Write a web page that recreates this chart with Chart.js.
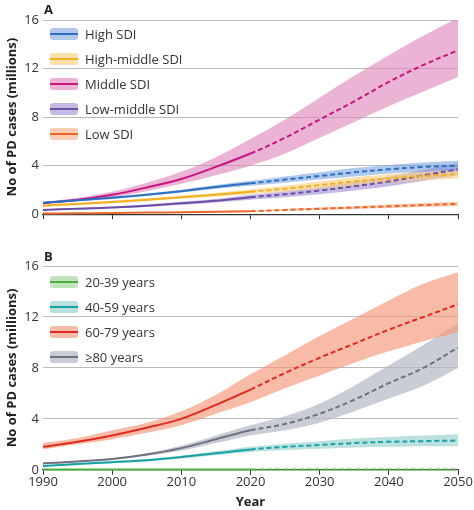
<!DOCTYPE html>
<html><head><meta charset="utf-8">
<script src="https://cdn.jsdelivr.net/npm/chart.js@4"></script>
<style>
body{margin:0;background:#fff;font-family:"Open Sans",sans-serif;}
#wrap{position:relative;width:474px;height:510px;overflow:hidden;}
canvas{position:absolute;left:0;}
.lab{position:absolute;font-weight:bold;font-size:13px;color:#222;}
.leg{position:absolute;left:50px;font-size:13px;color:#333;}
.leg div{height:25px;display:flex;align-items:center;}
.sw{position:relative;width:28px;height:12px;margin-right:7px;border-radius:3px;}
.sw i{position:absolute;left:0;right:0;top:5px;height:2.5px;}
</style></head><body>
<div id="wrap">
<canvas id="cA" width="474" height="226" style="top:0"></canvas>
<canvas id="cB" width="474" height="264" style="top:246px"></canvas>
<div class="lab" style="left:44px;top:0px">A</div>
<div class="lab" style="left:44px;top:247px">B</div>
<div class="leg" id="legA" style="top:21px"></div>
<div class="leg" id="legB" style="top:269px"></div>
</div>
<script>
const years = [1990,1995,2000,2005,2010,2015,2020,2025,2030,2035,2040,2045,2050];
const yTicks = [0,4,8,12,16];

const sdiNames = ['High SDI','High-middle SDI','Middle SDI','Low-middle SDI','Low SDI'];
const sdiLine = ['#2a6fc1','#f2b01e','#c8157f','#6a4fa8','#e8682a'];
const sdiBand = ['rgba(110,155,220,0.55)','rgba(250,205,120,0.6)','rgba(222,130,185,0.6)','rgba(160,140,210,0.6)','rgba(245,170,130,0.6)'];
const sdiMid = [
  [0.95,1.15,1.35,1.6,1.9,2.25,2.55,2.85,3.15,3.45,3.7,3.9,4.0],
  [0.7,0.85,1.0,1.2,1.4,1.6,1.85,2.1,2.4,2.7,2.95,3.15,3.3],
  [0.9,1.2,1.6,2.2,2.9,3.9,5.0,6.3,7.8,9.3,10.9,12.3,13.5],
  [0.35,0.45,0.55,0.7,0.9,1.1,1.4,1.65,1.95,2.3,2.7,3.2,3.7],
  [0.05,0.07,0.1,0.13,0.17,0.2,0.25,0.35,0.45,0.55,0.65,0.75,0.85]
];
const sdiLow = [
  [0.88,1.07,1.26,1.5,1.78,2.1,2.35,2.6,2.85,3.1,3.35,3.5,3.6],
  [0.62,0.77,0.9,1.08,1.27,1.45,1.65,1.85,2.1,2.35,2.6,2.8,2.95],
  [0.8,1.05,1.4,1.9,2.5,3.2,4.0,5.0,6.3,7.6,8.9,10.1,11.3],
  [0.3,0.38,0.48,0.6,0.78,0.97,1.2,1.4,1.65,1.95,2.3,2.75,3.2],
  [0.03,0.05,0.07,0.1,0.13,0.16,0.2,0.27,0.35,0.43,0.52,0.6,0.68]
];
const sdiHigh = [
  [1.02,1.23,1.45,1.7,2.02,2.4,2.75,3.1,3.45,3.8,4.05,4.25,4.4],
  [0.78,0.93,1.1,1.32,1.53,1.76,2.05,2.35,2.7,3.05,3.3,3.5,3.65],
  [1.0,1.35,1.85,2.6,3.5,4.7,6.2,7.8,9.6,11.4,13.1,14.7,16.2],
  [0.4,0.52,0.63,0.8,1.02,1.25,1.6,1.9,2.25,2.65,3.1,3.65,4.2],
  [0.07,0.09,0.13,0.16,0.21,0.25,0.3,0.43,0.55,0.67,0.8,0.92,1.02]
];

const ageNames = ['20-39 years','40-59 years','60-79 years','\u226580 years'];
const ageLine = ['#4daf3e','#17a3a3','#e02a1f','#6e7180'];
const ageBand = ['rgba(150,210,140,0.6)','rgba(140,205,200,0.6)','rgba(243,150,120,0.65)','rgba(180,184,196,0.7)'];
const ageMid = [
  [0.03,0.03,0.03,0.03,0.03,0.03,0.03,0.03,0.03,0.03,0.03,0.03,0.03],
  [0.3,0.45,0.6,0.75,1.0,1.3,1.6,1.8,1.95,2.1,2.2,2.25,2.3],
  [1.8,2.2,2.7,3.3,4.0,5.1,6.3,7.6,8.8,9.9,11.0,12.0,13.0],
  [0.5,0.65,0.85,1.2,1.7,2.4,3.1,3.6,4.4,5.5,6.8,8.0,9.6]
];
const ageLow = [
  [0,0,0,0,0,0,0,0,0,0,0,0,0],
  [0.25,0.38,0.52,0.66,0.88,1.15,1.4,1.55,1.65,1.75,1.8,1.85,1.85],
  [1.6,2.0,2.4,2.9,3.5,4.4,5.3,6.4,7.4,8.4,9.3,10.1,10.8],
  [0.45,0.6,0.8,1.1,1.5,2.1,2.7,3.1,3.7,4.6,5.6,6.6,8.0]
];
const ageHigh = [
  [0.06,0.06,0.06,0.06,0.06,0.06,0.06,0.06,0.06,0.06,0.06,0.06,0.06],
  [0.35,0.52,0.68,0.85,1.12,1.45,1.8,2.05,2.25,2.45,2.6,2.7,2.8],
  [2.1,2.5,3.1,3.7,4.6,5.9,7.5,9.0,10.5,11.9,13.3,14.6,15.5],
  [0.55,0.7,0.9,1.3,1.9,2.7,3.5,4.2,5.2,6.6,8.2,9.8,11.5]
];

function pts(arr){ return years.map((x,i)=>({x:x,y:arr[i]})); }

function buildSets(mid, lo, hi, line, band){
  const sets = [];
  mid.forEach((m,k)=>{
    sets.push({data:pts(lo[k]),borderWidth:0,pointRadius:0,fill:false,order:10});
    sets.push({data:pts(hi[k]),borderWidth:0,pointRadius:0,backgroundColor:band[k],fill:'-1',order:10});
  });
  mid.forEach((m,k)=>{
    sets.push({data:pts(m),borderColor:line[k],borderWidth:2,pointRadius:0,fill:false,order:0,
      segment:{borderDash:ctx=>ctx.p0.parsed.x>=2020?[5,3]:undefined}});
  });
  return sets;
}

function makeChart(id, sets, showX){
  new Chart(document.getElementById(id),{
    type:'line',
    data:{datasets:sets},
    options:{
      responsive:false,animation:false,clip:false,
      layout:{padding:{top:20,right:16,left:0,bottom:0}},
      plugins:{legend:{display:false},tooltip:{enabled:false}},
      elements:{line:{tension:0.35}},
      scales:{
        x:{type:'linear',min:1990,max:2050,
          ticks:{stepSize:10,display:showX,color:'#333',padding:0,font:{size:13,family:'Open Sans'},callback:v=>String(v)},
          grid:{drawOnChartArea:false,color:'#333',tickLength:5},
          border:{color:'#333',width:1.2},
          title:{display:showX,text:'Year',color:'#222',font:{size:13,weight:'bold',family:'Open Sans'},padding:{top:4,bottom:0}}},
        y:{min:0,max:16,
          afterBuildTicks:s=>{s.ticks=yTicks.map(v=>({value:v}));},
          afterFit:s=>{s.width=43;},
          ticks:{color:'#333',font:{size:13,family:'Open Sans'},padding:4},
          grid:{color:'#bbb',drawTicks:false},
          border:{display:false},
          title:{display:true,text:'No of PD cases (millions)',color:'#222',font:{size:13,weight:'bold',family:'Open Sans'},padding:{bottom:2}}}
      }
    }
  });
}

makeChart('cA', buildSets(sdiMid,sdiLow,sdiHigh,sdiLine,sdiBand), false);
makeChart('cB', buildSets(ageMid,ageLow,ageHigh,ageLine,ageBand), true);

function legend(id, names, line, band){
  document.getElementById(id).innerHTML = names.map((n,k)=>
    '<div><span class="sw" style="background:'+band[k]+'"><i style="background:'+line[k]+'"></i></span>'+n+'</div>').join('');
}
legend('legA', sdiNames, sdiLine, sdiBand);
legend('legB', ageNames, ageLine, ageBand);
</script>
</body></html>
